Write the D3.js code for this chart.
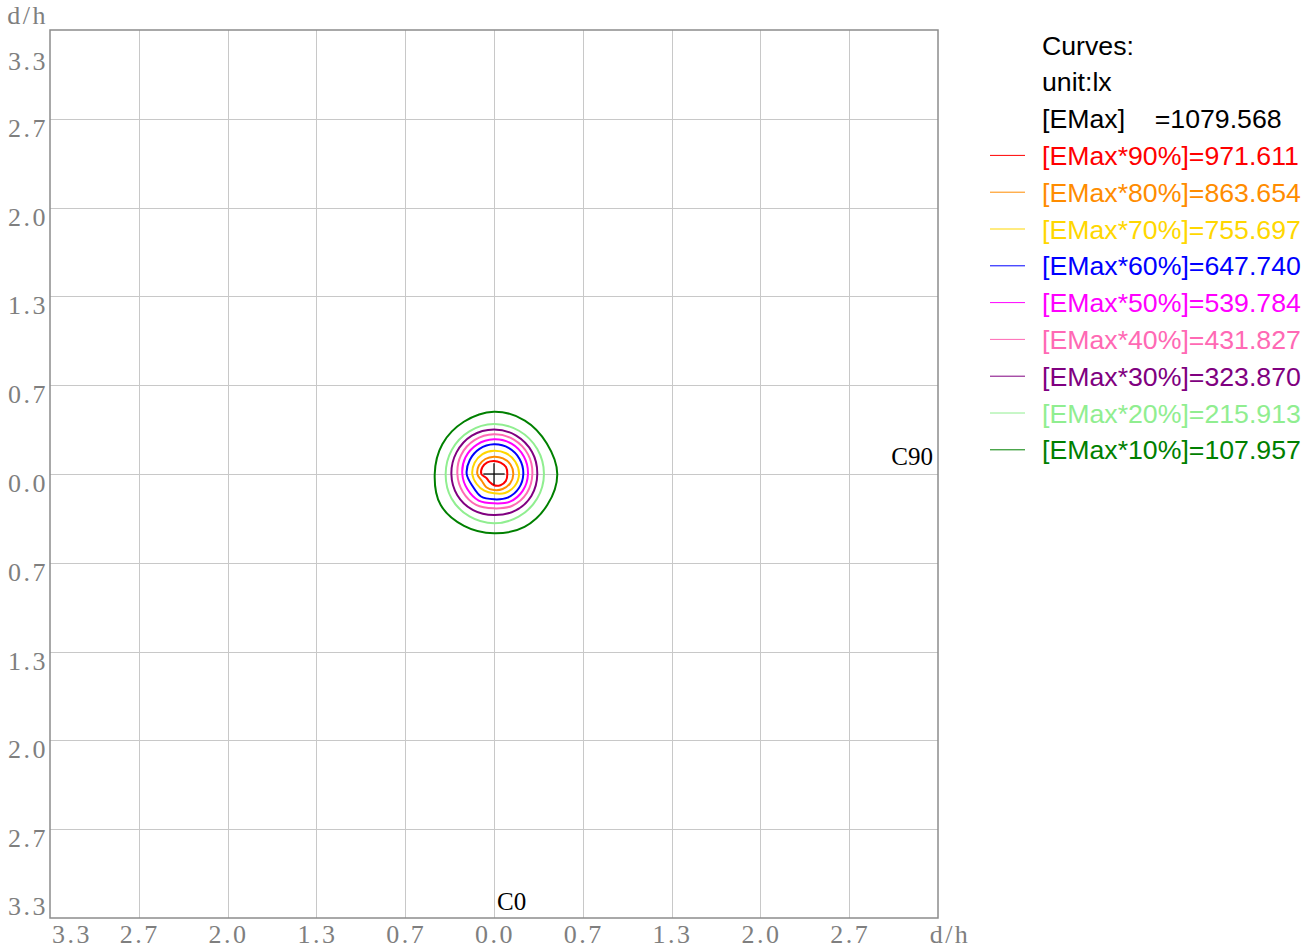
<!DOCTYPE html>
<html>
<head>
<meta charset="utf-8">
<script src="https://cdn.jsdelivr.net/npm/d3@7"></script>
<style>
  html, body { margin: 0; padding: 0; background: #fff; }
  svg { display: block; }
</style>
</head>
<body>
<svg id="chart"></svg>
<script>
// axis ticks (d/h), every 2/3 from -10/3 to 10/3
var aTicks = [-10 / 3, -8 / 3, -2, -4 / 3, -2 / 3, 0, 2 / 3, 4 / 3, 2, 8 / 3, 10 / 3];
var aTickLabels = ["3.3", "2.7", "2.0", "1.3", "0.7", "0.0", "0.7", "1.3", "2.0", "2.7", "3.3"];

// contour radii (d/h) every 30 degrees, clockwise from C180 (up)
var aAngles = [0, 30, 60, 90, 120, 150, 180, 210, 240, 270, 300, 330];
var aR90 = [0.098, 0.099, 0.104, 0.100, 0.103, 0.097, 0.085, 0.068, 0.064, 0.095, 0.101, 0.101];
var aR80 = [0.130, 0.135, 0.143, 0.145, 0.140, 0.130, 0.120, 0.115, 0.105, 0.125, 0.130, 0.130];
var aR70 = [0.175, 0.180, 0.185, 0.188, 0.180, 0.165, 0.145, 0.145, 0.150, 0.163, 0.168, 0.173];
var aR60 = [0.223, 0.225, 0.223, 0.220, 0.215, 0.205, 0.190, 0.195, 0.185, 0.205, 0.210, 0.218];
var aR50 = [0.260, 0.263, 0.260, 0.255, 0.250, 0.240, 0.220, 0.230, 0.230, 0.238, 0.248, 0.255];
var aR40 = [0.298, 0.298, 0.295, 0.288, 0.285, 0.275, 0.258, 0.268, 0.270, 0.275, 0.285, 0.293];
var aR30 = [0.335, 0.333, 0.330, 0.325, 0.325, 0.318, 0.308, 0.313, 0.318, 0.320, 0.325, 0.333];
var aR20 = [0.375, 0.375, 0.375, 0.375, 0.373, 0.370, 0.370, 0.368, 0.368, 0.363, 0.365, 0.370];
var aR10 = [0.468, 0.463, 0.458, 0.475, 0.463, 0.458, 0.445, 0.450, 0.463, 0.445, 0.448, 0.453];

var aPercents = [90, 80, 70, 60, 50, 40, 30, 20, 10];
var aLevels = [971.611, 863.654, 755.697, 647.740, 539.784, 431.827, 323.870, 215.913, 107.957];
var aColors = ["#ff0000", "#ff8c00", "#ffd700", "#0000ff", "#ff00ff", "#ff69b4", "#800080", "#90ee90", "#008000"];
var fEMax = 1079.568;

(function () {
	"use strict";

	var iWidth = 1314,
		iHeight = 952;
	var oMargin = { top: 30, left: 50, size: 888 };
	var sSerif = "'Liberation Serif', 'DejaVu Serif', serif";
	var sSans = "'Liberation Sans', Arial, sans-serif";

	var oSvg = d3.select("#chart")
		.attr("width", iWidth)
		.attr("height", iHeight);

	var oScaleX = d3.scaleLinear()
		.domain([-10 / 3, 10 / 3])
		.range([oMargin.left, oMargin.left + oMargin.size]);

	var oScaleY = d3.scaleLinear()
		.domain([-10 / 3, 10 / 3])
		.range([oMargin.top + oMargin.size, oMargin.top]);

	var oScaleR = d3.scaleLinear()
		.domain([0, 1])
		.range([0, oScaleX(1) - oScaleX(0)]);

	// grid
	var oGrid = oSvg.append("g")
		.attr("stroke", "#c8c8c8")
		.attr("stroke-width", 1);

	oGrid.selectAll("line.v")
		.data(aTicks.slice(1, -1))
		.enter().append("line")
		.attr("x1", function (d) { return Math.round(oScaleX(d)) + 0.5; })
		.attr("x2", function (d) { return Math.round(oScaleX(d)) + 0.5; })
		.attr("y1", oScaleY.range()[1])
		.attr("y2", oScaleY.range()[0]);

	oGrid.selectAll("line.h")
		.data(aTicks.slice(1, -1))
		.enter().append("line")
		.attr("y1", function (d) { return Math.round(oScaleY(d)) + 0.5; })
		.attr("y2", function (d) { return Math.round(oScaleY(d)) + 0.5; })
		.attr("x1", oScaleX.range()[0])
		.attr("x2", oScaleX.range()[1]);

	// frame
	oSvg.append("rect")
		.attr("x", oScaleX.range()[0])
		.attr("y", oScaleY.range()[1])
		.attr("width", oScaleX.range()[1] - oScaleX.range()[0])
		.attr("height", oScaleY.range()[0] - oScaleY.range()[1])
		.attr("fill", "none")
		.attr("stroke", "#8c8c8c")
		.attr("stroke-width", 1.5);

	// tick labels
	var oTickText = oSvg.append("g")
		.attr("font-family", sSerif)
		.attr("font-size", 26)
		.attr("fill", "#7f7f7f")
		.attr("letter-spacing", 2.5);

	oTickText.selectAll("text.x")
		.data(aTicks.slice(0, -1))
		.enter().append("text")
		.attr("x", function (d, i) { return i === 0 ? oScaleX(d) + 2 : oScaleX(d) + 1; })
		.attr("y", oScaleY.range()[0] + 25)
		.attr("text-anchor", function (d, i) { return i === 0 ? "start" : "middle"; })
		.text(function (d, i) { return aTickLabels[i]; });

	oTickText.append("text")
		.attr("x", oScaleX(10 / 3) + 12)
		.attr("y", oScaleY.range()[0] + 25)
		.attr("text-anchor", "middle")
		.text("d/h");

	oTickText.selectAll("text.y")
		.data(aTicks)
		.enter().append("text")
		.attr("x", oScaleX.range()[0] - 2)
		.attr("y", function (d, i) {
			if (i === 0) {
				return oScaleY(d) - 3;
			}
			if (i === aTicks.length - 1) {
				return oScaleY(d) + 40;
			}
			return oScaleY(d) + 18;
		})
		.attr("text-anchor", "end")
		.text(function (d, i) { return aTickLabels[i]; });

	oTickText.append("text")
		.attr("x", oScaleX.range()[0] - 2)
		.attr("y", oScaleY.range()[1] - 6)
		.attr("text-anchor", "end")
		.text("d/h");

	// C-plane labels
	oSvg.append("text")
		.attr("x", oScaleX(10 / 3) - 5)
		.attr("y", oScaleY(0) - 9)
		.attr("text-anchor", "end")
		.attr("font-family", sSerif)
		.attr("font-size", 25)
		.attr("fill", "#000")
		.text("C90");

	oSvg.append("text")
		.attr("x", oScaleX(0) + 3)
		.attr("y", oScaleY(-10 / 3) - 8)
		.attr("font-family", sSerif)
		.attr("font-size", 25)
		.attr("fill", "#000")
		.text("C0");

	// isolux curves
	var aCurves = [aR90, aR80, aR70, aR60, aR50, aR40, aR30, aR20, aR10];

	var oLine = d3.lineRadial()
		.angle(function (d) { return d[0] * Math.PI / 180; })
		.radius(function (d) { return oScaleR(d[1]); })
		.curve(d3.curveCatmullRomClosed.alpha(0.5));

	var oCurves = oSvg.append("g")
		.attr("transform", "translate(" + oScaleX(0) + "," + oScaleY(0) + ")")
		.attr("fill", "none")
		.attr("stroke-width", 2);

	oCurves.selectAll("path")
		.data(aCurves)
		.enter().append("path")
		.attr("stroke", function (d, i) { return aColors[i]; })
		.attr("d", function (d) {
			return oLine(aAngles.map(function (a, j) { return [a, d[j]]; }));
		});

	// centre cross
	var fCross = 0.08;
	var oCross = oSvg.append("g")
		.attr("stroke", "#000")
		.attr("stroke-width", 1.2);
	oCross.append("line")
		.attr("x1", oScaleX(-fCross)).attr("x2", oScaleX(fCross))
		.attr("y1", oScaleY(0)).attr("y2", oScaleY(0));
	oCross.append("line")
		.attr("x1", oScaleX(0)).attr("x2", oScaleX(0))
		.attr("y1", oScaleY(-fCross)).attr("y2", oScaleY(fCross));

	// legend
	var iLegX = 1042,
		iLegY = 54.5,
		fRow = 36.8;

	var oLegend = oSvg.append("g")
		.attr("font-family", sSans)
		.attr("font-size", 26.7);

	var aHead = ["Curves:", "unit:lx", "[EMax]    =" + fEMax.toFixed(3)];
	oLegend.selectAll("text.head")
		.data(aHead)
		.enter().append("text")
		.attr("x", iLegX)
		.attr("y", function (d, i) { return iLegY + i * fRow; })
		.attr("fill", "#000")
		.style("white-space", "pre")
		.text(function (d) { return d; });

	var oItems = oLegend.selectAll("g.item")
		.data(aPercents)
		.enter().append("g")
		.attr("transform", function (d, i) {
			return "translate(0," + (iLegY + (i + 3) * fRow) + ")";
		});

	oItems.append("line")
		.attr("x1", 990).attr("x2", 1025)
		.attr("y1", -9.5).attr("y2", -9.5)
		.attr("stroke", function (d, i) { return aColors[i]; })
		.attr("stroke-width", 1);

	oItems.append("text")
		.attr("x", iLegX)
		.attr("y", 0)
		.attr("fill", function (d, i) { return aColors[i]; })
		.text(function (d, i) { return "[EMax*" + d + "%]=" + aLevels[i].toFixed(3); });
})();
</script>
</body>
</html>
